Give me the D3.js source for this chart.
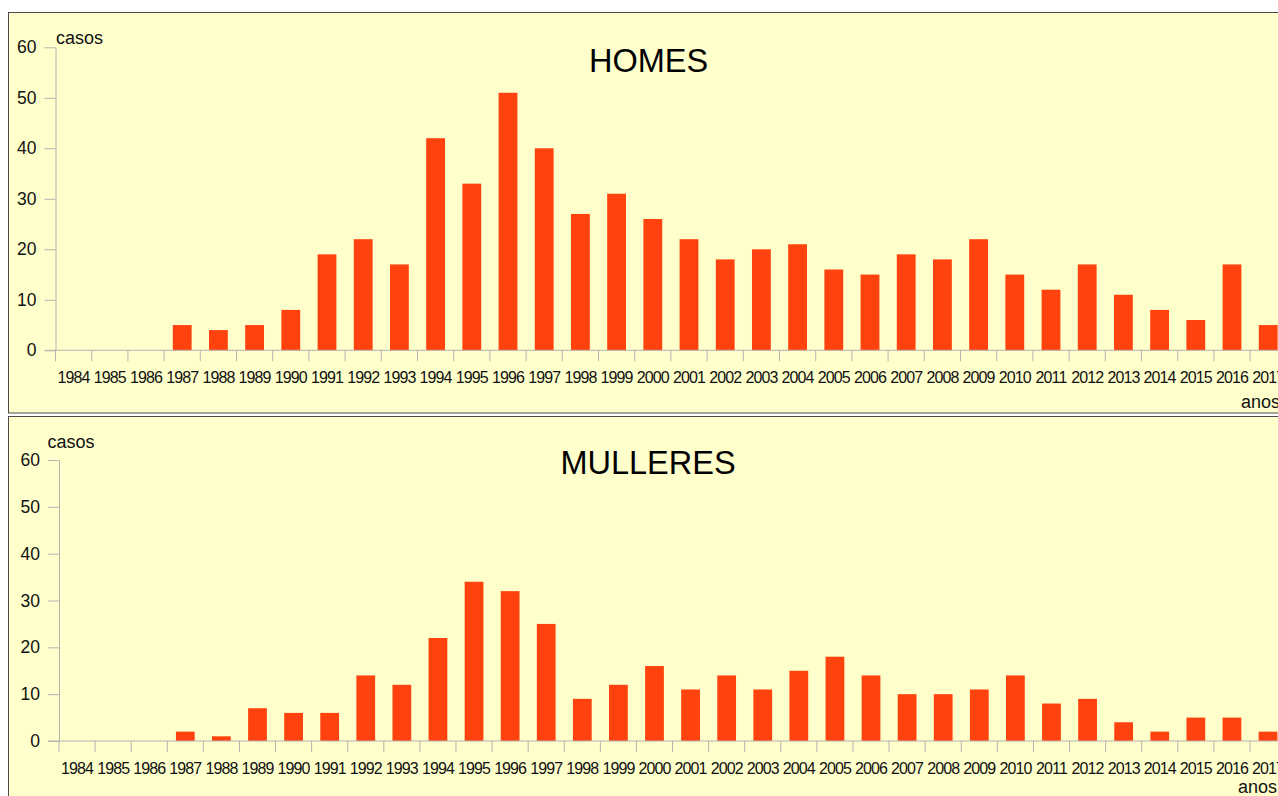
<!DOCTYPE html>
<html>
<head>
<meta charset="utf-8">
<script src="https://cdn.jsdelivr.net/npm/d3@7"></script>
<style>
  html, body { margin: 0; padding: 0; background: #ffffff; overflow: hidden; }
  svg { display: block; font-family: "Liberation Sans", Arial, sans-serif; }
</style>
</head>
<body>
<svg id="chart" width="1278" height="796"></svg>
<script>
// Years shown on the category axis
const years = d3.range(1984, 2018).map(String);

// Cases per year, men
const homes = [0, 0, 0, 5, 4, 5, 8, 19, 22, 17, 42, 33, 51, 40, 27, 31, 26,
               22, 18, 20, 21, 16, 15, 19, 18, 22, 15, 12, 17, 11, 8, 6, 17, 5];

// Cases per year, women
const mulleres = [0, 0, 0, 2, 1, 7, 6, 6, 14, 12, 22, 34, 32, 25, 9, 12, 16,
                  11, 14, 11, 15, 18, 14, 10, 10, 11, 14, 8, 9, 4, 2, 5, 5, 2];

// Value axis ticks
const yTicks = [0, 10, 20, 30, 40, 50, 60];

const panelTitles = ["HOMES", "MULLERES"];

const svg = d3.select("#chart");
const BAR = "#ff420e";
const AXIS = "#b3b3b3";

function drawPanel(cfg, title, values) {
  const g = svg.append("g");

  // panel frame
  g.append("rect")
    .attr("x", cfg.frame[0]).attr("y", cfg.frame[1])
    .attr("width", cfg.frame[2]).attr("height", cfg.frame[3])
    .attr("fill", "#ffffcc").attr("stroke", "#4a4a4a").attr("stroke-width", 1);

  const x = d3.scaleBand()
    .domain(years)
    .range([cfg.left, cfg.left + cfg.step * years.length])
    .paddingInner(0).paddingOuter(0);

  const y = d3.scaleLinear().domain([0, 60]).range([cfg.y0, cfg.y60]);

  // bars
  const bw = x.bandwidth() * 0.52;
  g.append("g").selectAll("rect")
    .data(values)
    .join("rect")
    .attr("x", (d, i) => x(years[i]) + (x.bandwidth() - bw) / 2)
    .attr("y", d => y(d))
    .attr("width", bw)
    .attr("height", d => y(0) - y(d))
    .attr("fill", BAR);

  // value axis
  const ya = g.append("g")
    .attr("transform", `translate(${cfg.left},0)`)
    .call(d3.axisLeft(y).tickValues(yTicks).tickSize(11).tickSizeOuter(0).tickPadding(8));
  ya.select(".domain").attr("stroke", AXIS);
  ya.selectAll(".tick line").attr("stroke", AXIS);
  ya.selectAll(".tick text")
    .attr("font-size", 17.5).attr("fill", "#111")
    .attr("font-family", "Liberation Sans, Arial, sans-serif");

  // category axis: baseline and boundary ticks
  const xa = g.append("g");
  xa.append("line")
    .attr("x1", cfg.left - 11).attr("x2", x.range()[1])
    .attr("y1", y(0)).attr("y2", y(0))
    .attr("stroke", AXIS);
  xa.selectAll("line.bound")
    .data(years)
    .join("line")
    .attr("class", "bound")
    .attr("x1", d => x(d)).attr("x2", d => x(d))
    .attr("y1", y(0)).attr("y2", y(0) + 11)
    .attr("stroke", AXIS);

  const xl = g.append("g")
    .attr("transform", `translate(0,${cfg.yearBase})`)
    .call(d3.axisBottom(x).tickSize(0).tickPadding(0));
  xl.select(".domain").remove();
  xl.selectAll(".tick text")
    .attr("dy", 0)
    .attr("y", 0)
    .attr("font-size", 16).attr("letter-spacing", "-0.9px").attr("fill", "#111")
    .attr("font-family", "Liberation Sans, Arial, sans-serif");

  // axis titles
  g.append("text")
    .attr("x", cfg.casos[0]).attr("y", cfg.casos[1])
    .attr("font-size", 18).attr("fill", "#111")
    .text("casos");
  g.append("text")
    .attr("x", cfg.anos[0]).attr("y", cfg.anos[1])
    .attr("font-size", 18).attr("fill", "#111")
    .text("anos");

  // chart title
  g.append("text")
    .attr("x", cfg.titleX).attr("y", cfg.titleY)
    .attr("text-anchor", "middle")
    .attr("font-size", 32.5).attr("fill", "#000")
    .text(title);
}

drawPanel({
  frame: [8.5, 12.5, 1300, 400.5],
  left: 55.5, step: 36.2, y0: 350.3, y60: 47.3,
  yearBase: 383, casos: [56, 44], anos: [1241, 408],
  titleX: 648.5, titleY: 72
}, panelTitles[0], homes);

drawPanel({
  frame: [8.5, 416.5, 1300, 420],
  left: 59, step: 36.09, y0: 741, y60: 460,
  yearBase: 774, casos: [47.5, 448], anos: [1238, 793],
  titleX: 648, titleY: 474
}, panelTitles[1], mulleres);
</script>
</body>
</html>
